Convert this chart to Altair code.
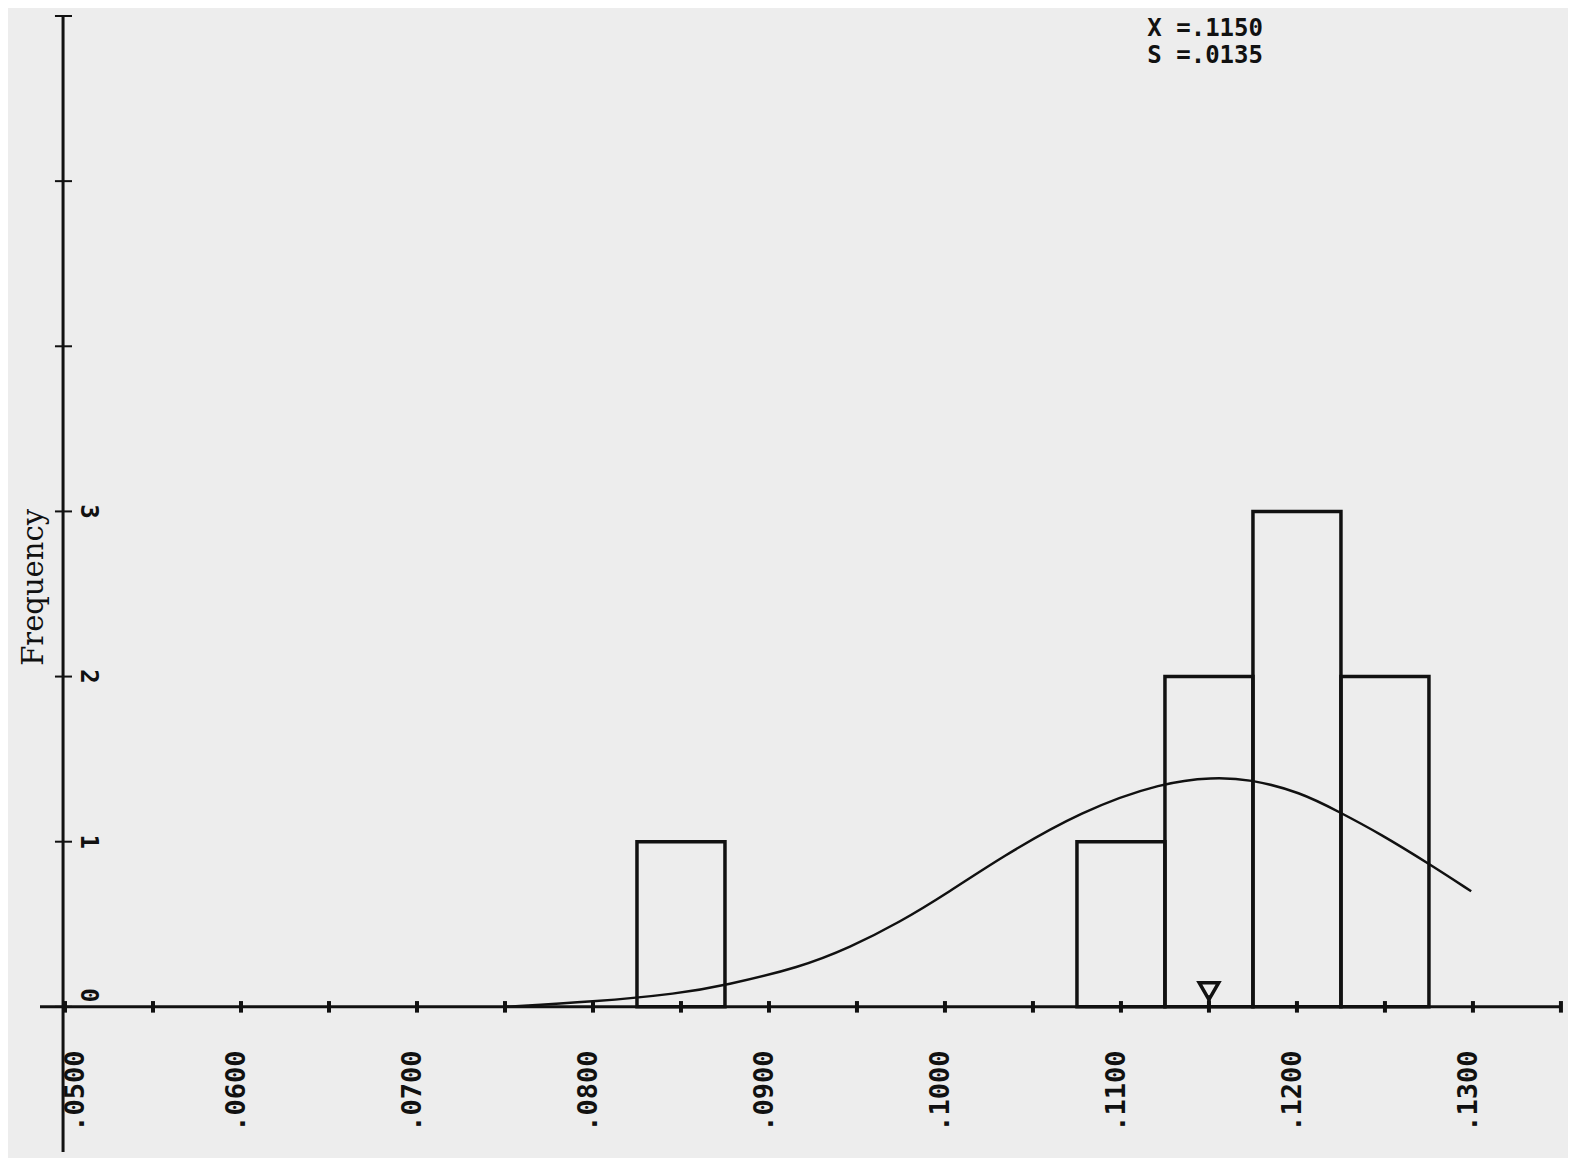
import altair as alt
import pandas as pd

# ---- data ----
bin_start = [0.0825, 0.1075, 0.1125, 0.1175, 0.1225]
bin_end = [0.0875, 0.1125, 0.1175, 0.1225, 0.1275]
counts = [1, 1, 2, 3, 2]

curve_x = [0.0750, 0.0800, 0.0849, 0.0875, 0.0918, 0.0946, 0.0974,
           0.1003, 0.1031, 0.1078, 0.1124, 0.1152, 0.1173, 0.1202, 0.1224,
           0.1247, 0.1276, 0.1299]
curve_y = [0.00, 0.03, 0.08, 0.13, 0.24, 0.36, 0.51,
           0.70, 0.90, 1.19, 1.36, 1.39, 1.38, 1.30, 1.18,
           1.05, 0.86, 0.70]

mean_value = 0.1150
stats_lines = ["X =.1150", "S =.0135"]

x_tick_values = [0.050, 0.055, 0.060, 0.065, 0.070, 0.075, 0.080, 0.085, 0.090,
                 0.095, 0.100, 0.105, 0.110, 0.115, 0.120, 0.125, 0.130, 0.135]
x_label_values = [0.05, 0.06, 0.07, 0.08, 0.09, 0.10, 0.11, 0.12, 0.13]
x_label_texts = [".0500", ".0600", ".0700", ".0800", ".0900", ".1000", ".1100", ".1200", ".1300"]
y_tick_values = [0, 1, 2, 3, 4, 5, 6]
y_label_values = [0, 1, 2, 3]
y_label_texts = ["0", "1", "2", "3"]
y_title = "Frequency"

# ---- layout constants (scale space) ----
X_DOMAIN = [0.04858, 0.13506]
Y_DOMAIN = [-0.879, 6.0]
YAXIS_X = 0.04989
LABEL_Y = -0.51
INK = "#111111"
BG = "#ededed"

xs = alt.Scale(domain=X_DOMAIN, nice=False, zero=False)
ys = alt.Scale(domain=Y_DOMAIN, nice=False, zero=False)


def X(field):
    return alt.X(field, type="quantitative", scale=xs, axis=None)


def Y(field):
    return alt.Y(field, type="quantitative", scale=ys, axis=None)


bars_df = pd.DataFrame({"x0": bin_start, "x1": bin_end, "n": counts, "base": [0] * len(counts)})
curve_df = pd.DataFrame({"x": curve_x, "y": curve_y})
xt_df = pd.DataFrame({"x": x_tick_values, "lo": -0.035, "hi": 0.035})
xl_df = pd.DataFrame({"v": x_label_values, "t": x_label_texts, "y": LABEL_Y})
yt_df = pd.DataFrame({"y": y_tick_values, "lo": 0.04943, "hi": 0.05040})
yl_df = pd.DataFrame({"v": y_label_values, "t": y_label_texts, "x": 0.05131})
yaxis_df = pd.DataFrame({"x": [YAXIS_X], "y0": [Y_DOMAIN[0]], "y1": [Y_DOMAIN[1]]})
xaxis_df = pd.DataFrame({"x0": [X_DOMAIN[0]], "x1": [0.13506], "y": [0]})
mean_df = pd.DataFrame({"x": [mean_value], "y": [0.095], "y0": [0], "y1": [0.07]})
title_df = pd.DataFrame({"x": [0.04825], "y": [2.54], "t": [y_title]})
stats_df = pd.DataFrame({"x": [0.11150] * 2, "y": [5.92, 5.755], "t": stats_lines})

yaxis = alt.Chart(yaxis_df).mark_rule(color=INK, strokeWidth=3).encode(
    x=X("x"), y=Y("y0"), y2="y1")
xaxis = alt.Chart(xaxis_df).mark_rule(color=INK, strokeWidth=3).encode(
    x=X("x0"), x2="x1", y=Y("y"))
yticks = alt.Chart(yt_df).mark_rule(color=INK, strokeWidth=2).encode(
    x=X("lo"), x2="hi", y=Y("y"))
xticks = alt.Chart(xt_df).mark_rule(color=INK, strokeWidth=4).encode(
    x=X("x"), y=Y("lo"), y2="hi")

bars = alt.Chart(bars_df).mark_rect(filled=False, stroke=INK, strokeWidth=3.5).encode(
    x=X("x0"), x2="x1", y=Y("base"), y2="n")

curve = alt.Chart(curve_df).mark_line(color=INK, strokeWidth=2.5, interpolate="basis").encode(
    x=X("x"), y=Y("y"))

mean_stem = alt.Chart(mean_df).mark_rule(color=INK, strokeWidth=3.5).encode(
    x=X("x"), y=Y("y0"), y2="y1")
mean_mark = alt.Chart(mean_df).mark_point(shape="triangle-down", size=380, filled=False,
                                          stroke=INK, strokeWidth=3.5, opacity=1).encode(
    x=X("x"), y=Y("y"))

# first label sits just right of the y axis in the reference
xlabels = alt.Chart(xl_df).transform_calculate(
    x="datum.v + (datum.v < 0.055 ? 0.0006 : -0.0002)"
).mark_text(angle=270, align="center", baseline="middle",
            font="DejaVu Sans Mono", fontSize=27, fontWeight="bold",
            color=INK).encode(x=X("x"), y=Y("y"), text="t:N")
ylabels = alt.Chart(yl_df).transform_calculate(
    y="datum.v + (datum.v == 0 ? 0.07 : 0)"
).mark_text(angle=90, align="center", baseline="middle",
            font="DejaVu Sans Mono", fontSize=24, fontWeight="bold",
            color=INK).encode(x=X("x"), y=Y("y"), text="t:N")
ytitle = alt.Chart(title_df).mark_text(angle=270, align="center", baseline="middle",
                                       font="DejaVu Serif", fontSize=29,
                                       color=INK).encode(x=X("x"), y=Y("y"), text="t:N")
stats = alt.Chart(stats_df).mark_text(align="left", baseline="middle",
                                      font="DejaVu Sans Mono", fontSize=24, fontWeight="bold",
                                      color=INK).encode(x=X("x"), y=Y("y"), text="t:N")

chart = alt.layer(
    bars, curve, xaxis, yaxis, yticks, xticks, mean_stem, mean_mark,
    xlabels, ylabels, ytitle, stats
).properties(
    width=1522, height=1136,
    autosize=alt.AutoSizeParams(type="none"),
    padding={"left": 32, "top": 8, "right": 6, "bottom": 6},
    background=BG,
).configure_view(stroke=None)

chart.save("out.html", embed_options={"renderer": "svg", "actions": False})
